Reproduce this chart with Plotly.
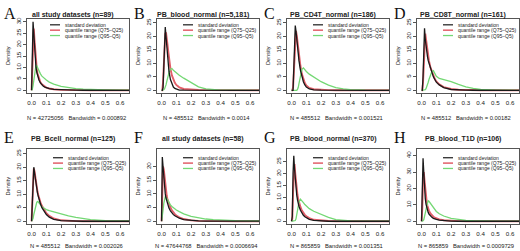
import plotly.graph_objects as go

W, H = 520, 251

panel_letters = ["A", "B", "C", "D", "E", "F", "G", "H"]
panel_titles = [
    "all study datasets (n=89)",
    "PB_blood_normal (n=5,181)",
    "PB_CD4T_normal (n=186)",
    "PB_CD8T_normal (n=161)",
    "PB_Bcell_normal (n=125)",
    "all study datasets (n=58)",
    "PB_blood_normal (n=370)",
    "PB_blood_T1D (n=106)",
]
panel_n = ["42725056", "485512", "485512", "485512", "485512", "47644768", "865859", "865859"]
panel_bw = ["0.000892", "0.0014", "0.001521", "0.00182", "0.002026", "0.0006694", "0.001351", "0.0009729"]
series_names = ["standard deviation", "quantile range (Q75\u2212Q25)", "quantile range (Q95\u2212Q5)"]

x_grid = [0, .005, .01, .015, .02, .025, .03, .035, .04, .045, .05, .06, .07, .08, .09,
          .1, .12, .15, .2, .25, .3, .35, .4, .5, .7]
x_ticks = [0.0, 0.1, 0.2, 0.3, 0.4, 0.5, 0.6]
y_ticks = [
    [0, 5, 10, 15, 20, 25, 30],
    [0, 5, 10, 15, 20, 25],
    [0, 5, 10, 15, 20, 25],
    [0, 5, 10, 15, 20, 25],
    [0, 5, 10, 15, 20, 25],
    [0, 5, 10, 15, 20],
    [0, 5, 10, 15, 20, 25],
    [0, 10, 20, 30, 40],
]

sd_A = [0, 14, 30, 25, 18, 13, 10, 8, 6.5, 5.4, 4.5, 3.2, 2.4, 1.8, 1.4, 1.1, 0.7, 0.4, 0.2, 0.1, 0.05, 0.03, 0.02, 0.01, 0]
q75_A = [0, 8, 22, 27, 22, 16, 12, 9.5, 7.5, 6.2, 5, 3.5, 2.6, 2, 1.6, 1.2, 0.8, 0.45, 0.2, 0.1, 0.05, 0.03, 0.02, 0.01, 0]
q95_A = [0, 0.5, 2, 5, 8, 10, 11, 10.8, 10, 9.2, 8.5, 7.2, 6.2, 5.5, 5, 4.5, 3.6, 2.7, 1.7, 1.1, 0.7, 0.5, 0.35, 0.2, 0.05]

sd_B = [0, 0, 1, 10, 19.5, 23.5, 20, 16, 12.5, 9.5, 7, 4, 2.2, 1.2, 0.7, 0.4, 0.1, 0.03, 0, 0, 0, 0, 0, 0, 0]
q75_B = [0, 0, 3, 10, 17, 21, 21.5, 20, 17, 14.5, 12, 8, 5.5, 3.8, 2.8, 2, 1.1, 0.5, 0.2, 0.1, 0.05, 0.03, 0.02, 0, 0]
q95_B = [0, 0, 0, 0.2, 0.5, 1, 2, 3.2, 4.5, 5.6, 6.5, 7.8, 8.1, 7.4, 6.9, 6.5, 5.6, 4.5, 2.8, 1.3, 0.5, 0.2, 0.1, 0.02, 0]

sd_C = [0, 0, 0, 8, 20, 24, 22, 19, 16, 13.5, 11, 7.5, 5, 3.2, 2, 1.2, 0.5, 0.15, 0.05, 0, 0, 0, 0, 0, 0]
q75_C = [0, 0, 1, 6, 15, 21, 22, 20.5, 18, 15.5, 13, 9, 6, 4, 2.7, 1.8, 0.9, 0.4, 0.15, 0.05, 0.02, 0, 0, 0, 0]
q95_C = [0, 0, 0, 0, 0, 0, 0, 0, 0.3, 1, 2.5, 5.5, 7.8, 8.3, 7.6, 7, 6, 5, 3.2, 1.9, 1, 0.5, 0.25, 0.05, 0]

sd_D = [0, 0, 5, 18, 23, 19, 16, 14, 12.5, 11, 10, 8, 6.5, 5, 4, 3, 2, 1, 0.3, 0.1, 0.05, 0.02, 0, 0, 0]
q75_D = [0, 0, 3, 12, 19, 21, 19, 16.5, 14, 12.5, 11, 8.5, 6.8, 5.2, 4.2, 3.3, 2.2, 1.2, 0.5, 0.2, 0.1, 0.05, 0.02, 0, 0]
q95_D = [0, 0, 0, 0, 0, 0.2, 0.6, 1.2, 2, 3, 4, 5.8, 7, 7.3, 6.3, 5.2, 4.4, 4, 3.2, 2.2, 1.3, 0.7, 0.3, 0.05, 0]

sd_E = [0, 6, 16, 20, 18, 15.5, 13.5, 12, 10.5, 9.3, 8.2, 6.5, 5, 4, 3.2, 2.5, 1.5, 0.7, 0.2, 0.05, 0, 0, 0, 0, 0]
q75_E = [0, 5, 14, 19.5, 18.5, 16, 14, 12.5, 11, 9.8, 8.7, 7, 5.7, 4.6, 3.7, 3, 2, 1, 0.35, 0.12, 0.05, 0.02, 0, 0, 0]
q95_E = [0, 0.3, 1, 2.5, 4, 5.5, 6.5, 7, 7.3, 7.2, 6.8, 6, 5.4, 5, 4.6, 4.3, 3.9, 3.4, 2.7, 2, 1.4, 1, 0.6, 0.25, 0.05]

sd_F = [0, 23.5, 20, 15, 12, 10, 8.5, 7.3, 6.3, 5.5, 4.8, 3.8, 3, 2.4, 2, 1.6, 1.1, 0.6, 0.25, 0.1, 0.05, 0.02, 0, 0, 0]
q75_F = [0, 12, 20, 19, 16, 13, 11, 9.3, 8, 7, 6.2, 5, 4, 3.2, 2.6, 2.1, 1.4, 0.8, 0.3, 0.12, 0.05, 0.02, 0, 0, 0]
q95_F = [0, 1.5, 4, 6.5, 8.3, 9, 8.8, 8.3, 7.8, 7.3, 6.8, 6, 5.4, 4.9, 4.5, 4.1, 3.5, 2.7, 1.8, 1.2, 0.8, 0.55, 0.4, 0.2, 0.05]

sd_G = [0, 2, 20, 27.5, 22, 17, 13.5, 11, 9, 7.5, 6.3, 4.6, 3.4, 2.5, 1.9, 1.4, 0.8, 0.35, 0.1, 0, 0, 0, 0, 0, 0]
q75_G = [0, 1, 12, 22, 24, 20, 16, 13.3, 11, 9.3, 8, 6, 4.5, 3.5, 2.7, 2.1, 1.3, 0.6, 0.2, 0.07, 0.02, 0, 0, 0, 0]
q95_G = [0, 0, 0, 0, 0, 0.3, 1, 2.5, 4.5, 6.5, 8, 9.3, 8.7, 7.8, 7, 6.3, 5.3, 4.2, 2.8, 1.6, 0.7, 0.3, 0.12, 0.03, 0]

sd_H = [0, 15, 38.5, 30, 20, 14, 10.5, 8, 6.5, 5.3, 4.4, 3.2, 2.4, 1.8, 1.4, 1.1, 0.7, 0.35, 0.1, 0, 0, 0, 0, 0, 0]
q75_H = [0, 8, 25, 30, 25, 19, 14.5, 11.5, 9.3, 7.7, 6.5, 4.8, 3.6, 2.8, 2.2, 1.8, 1.1, 0.6, 0.2, 0.07, 0.03, 0, 0, 0, 0]
q95_H = [0, 0, 0.3, 1, 2.5, 4.5, 7, 9.5, 11.5, 12.5, 12.2, 11, 9.5, 8.2, 7, 6, 4.6, 3.2, 1.8, 1, 0.6, 0.35, 0.2, 0.07, 0.02]

sd_all = [sd_A, sd_B, sd_C, sd_D, sd_E, sd_F, sd_G, sd_H]
q75_all = [q75_A, q75_B, q75_C, q75_D, q75_E, q75_F, q75_G, q75_H]
q95_all = [q95_A, q95_B, q95_C, q95_D, q95_E, q95_F, q95_G, q95_H]

# ---------- styling / layout (pixels) ----------
COL_BLACK = "#1a1a1a"
COL_RED = "#e25f69"
COL_GREEN = "#74d874"
AXC = "#555555"
TXT = "#222222"

y_ranges = [[-1.3, 31.3], [-1.1, 26.5], [-1.1, 26.5], [-1.1, 26.5],
            [-1.1, 26.8], [-1.1, 26.5], [-1.25, 30.4], [-1.8, 44.2]]
x_range = [-0.031, 0.66]
row_box = [(17, 92), (148, 224)]   # top, bottom px
row_title_y = [13, 138]
row_n_y = [117, 246]
row_letter_y = [12, 137]
row_legend_y = [23, 157]


def px(xp):
    return xp / W


def py(yp):
    return 1 - yp / H


fig = go.Figure()
layout = dict(
    width=W, height=H, margin=dict(l=0, r=0, t=0, b=0),
    paper_bgcolor="white", plot_bgcolor="white", showlegend=False,
    font=dict(family="Liberation Sans, Arial, sans-serif", color=TXT),
)
annotations = []
shapes = []

for i in range(8):
    r, c = divmod(i, 4)
    col = 130 * c
    ax = "" if i == 0 else str(i + 1)
    top, bot = row_box[r]
    left, right = col + 27, col + 129
    xa = dict(domain=[px(left), px(right)], range=x_range, anchor="y" + ax,
              tickvals=x_ticks, ticktext=["%.1f" % v for v in x_ticks],
              showline=True, linecolor=AXC, linewidth=0.8, mirror=True,
              ticks="outside", ticklen=3, tickwidth=0.8, tickcolor=AXC,
              showgrid=False, zeroline=False, tickfont=dict(size=6.2, color=TXT))
    ya = dict(domain=[py(bot), py(top)], range=y_ranges[i], anchor="x" + ax,
              tickvals=y_ticks[i], tickangle=-90,
              showline=True, linecolor=AXC, linewidth=0.8, mirror=True,
              ticks="outside", ticklen=3, tickwidth=0.8, tickcolor=AXC,
              showgrid=False, zeroline=False, tickfont=dict(size=6.2, color=TXT))
    layout["xaxis" + ax] = xa
    layout["yaxis" + ax] = ya

    for ys, colr, wid in [(q75_all[i], COL_RED, 1.9), (q95_all[i], COL_GREEN, 1.3), (sd_all[i], COL_BLACK, 1.3)]:
        fig.add_trace(go.Scatter(x=x_grid, y=ys, mode="lines", xaxis="x" + ax, yaxis="y" + ax,
                                 line=dict(color=colr, width=wid), hoverinfo="skip"))

    # panel letter
    annotations.append(dict(text=panel_letters[i], x=px(col + 2), y=py(row_letter_y[r]), xref="paper", yref="paper",
                            xanchor="left", yanchor="middle", showarrow=False,
                            font=dict(family="Liberation Serif, Times New Roman, serif", size=16, color="#111")))
    # title
    annotations.append(dict(text="<b>" + panel_titles[i] + "</b>", x=px(col + 73), y=py(row_title_y[r]),
                            xref="paper", yref="paper", xanchor="center", yanchor="middle", showarrow=False,
                            font=dict(size=7, color=TXT)))
    # N / bandwidth
    annotations.append(dict(text="N = " + panel_n[i] + "\u00a0\u00a0\u00a0Bandwidth = " + panel_bw[i],
                            x=px(col + 76), y=py(row_n_y[r]), xref="paper", yref="paper",
                            xanchor="center", yanchor="middle", showarrow=False, font=dict(size=5.8, color=TXT)))
    # Density label
    annotations.append(dict(text="Density", x=px(col + 8), y=py((top + bot) / 2), xref="paper", yref="paper",
                            xanchor="center", yanchor="middle", showarrow=False, textangle=-90,
                            font=dict(size=5.6, color=TXT)))
    # legend
    lx0 = col + (50 if i == 0 else 53)
    for k, (nm, colr, wid) in enumerate([(series_names[0], COL_BLACK, 1.2),
                                         (series_names[1], COL_RED, 1.5),
                                         (series_names[2], COL_GREEN, 1.3)]):
        yy = row_legend_y[r] + 5.4 * k
        shapes.append(dict(type="line", xref="paper", yref="paper", x0=px(lx0), x1=px(lx0 + 10),
                           y0=py(yy), y1=py(yy), line=dict(color=colr, width=wid)))
        annotations.append(dict(text=nm, x=px(lx0 + 12.5), y=py(yy), xref="paper", yref="paper",
                                xanchor="left", yanchor="middle", showarrow=False,
                                font=dict(size=5, color=TXT)))

layout["annotations"] = annotations
layout["shapes"] = shapes
fig.update_layout(**layout)
fig.write_html("out.html", config={"displayModeBar": False},
               post_script="document.body.style.margin='0';document.body.style.overflow='hidden';")
